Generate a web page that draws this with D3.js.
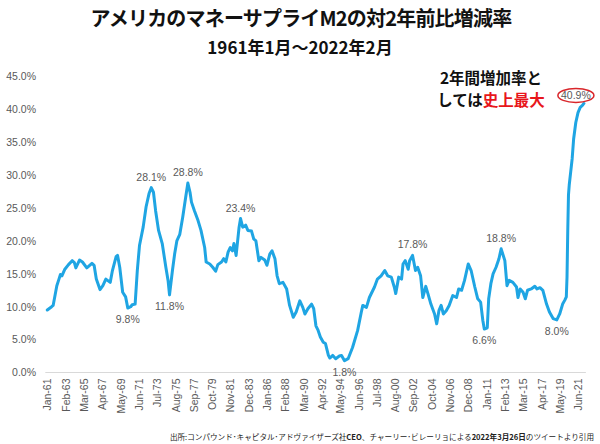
<!DOCTYPE html>
<html>
<head>
<meta charset="utf-8">
<script src="https://cdn.jsdelivr.net/npm/d3@7/dist/d3.min.js"></script>
<style>
  html, body { margin: 0; padding: 0; background: #fff; }
  svg { display: block; }
</style>
</head>
<body>
<svg id="chart" width="600" height="444"></svg>
<script>
// ---- data ----
const months = [
  "1961-01","1961-07","1961-09","1962-02","1962-05","1962-07","1962-09","1963-01","1963-06","1963-11",
  "1964-02","1964-04","1964-09","1965-01","1965-07","1966-02","1966-05","1966-08","1967-01","1967-05",
  "1967-09","1968-03","1968-06","1968-11","1969-01","1969-04","1969-08","1969-12","1970-03","1970-07",
  "1970-09","1971-01","1971-04","1971-07","1971-12","1972-04","1972-08","1972-11","1973-02","1973-05",
  "1973-09","1974-02","1974-07","1974-10","1974-12","1975-04","1975-07","1975-10","1976-02","1976-06",
  "1976-10","1977-01","1977-04","1977-06","1977-10","1978-03","1978-07","1978-12","1979-02","1979-07",
  "1979-11","1980-03","1980-06","1980-11","1981-02","1981-05","1981-08","1981-11","1982-02","1982-04",
  "1982-07","1982-11","1983-01","1983-04","1983-08","1983-11","1984-04","1984-07","1984-10","1985-02",
  "1985-05","1985-10","1986-01","1986-05","1986-08","1986-12","1987-03","1987-06","1987-11","1988-04",
  "1988-08","1989-01","1989-05","1989-10","1990-02","1990-05","1990-09","1991-02","1991-05","1991-08",
  "1991-11","1992-02","1992-06","1992-09","1993-01","1993-03","1993-07","1993-11","1994-04","1994-07",
  "1994-11","1995-04","1995-10","1996-05","1996-10","1996-12","1997-05","1997-09","1998-04","1998-08",
  "1999-01","1999-06","1999-10","2000-03","2000-07","2000-09","2001-01","2001-05","2001-07","2001-10",
  "2002-02","2002-04","2002-08","2002-12","2003-03","2003-07","2003-10","2004-02","2004-05","2004-09",
  "2005-02","2005-05","2005-08","2005-11","2006-02","2006-06","2006-10","2007-03","2007-08","2007-11",
  "2008-03","2008-07","2008-12","2009-04","2009-09","2010-01","2010-05","2010-08","2010-10","2011-02",
  "2011-04","2011-07","2011-10","2012-02","2012-06","2012-09","2013-02","2013-05","2013-08","2014-01",
  "2014-06","2014-08","2014-11","2015-03","2015-06","2015-09","2016-02","2016-07","2016-10","2017-02",
  "2017-06","2017-11","2018-03","2018-08","2019-01","2019-05","2019-09","2019-12","2020-02","2020-03",
  "2020-04","2020-05","2020-06","2020-08","2020-10","2020-12","2021-03","2021-06","2021-09","2021-12",
  "2022-02"
];
const growthPct = [
  9.5,10.0,10.2,13.2,14.2,14.9,14.7,15.7,16.4,17.0,
  16.7,15.9,17.1,16.8,15.9,16.6,16.3,14.2,12.6,13.2,
  14.2,13.7,15.5,17.6,17.8,16.0,12.2,11.5,9.8,10.0,
  10.3,10.4,15.5,19.3,22.1,25.2,27.2,28.1,27.4,24.6,
  21.6,19.6,16.0,14.0,11.8,15.5,18.0,20.0,21.0,23.6,
  26.6,28.8,27.4,25.9,24.6,23.1,21.6,19.0,16.8,16.5,
  16.0,15.4,16.4,16.8,17.3,16.8,18.3,19.0,18.5,19.6,
  17.8,22.1,23.4,22.1,22.4,21.6,21.5,20.3,20.0,17.0,
  17.5,17.1,16.3,18.0,18.5,17.3,14.7,13.5,13.7,12.7,
  10.2,8.4,9.2,10.9,9.9,8.9,9.7,10.4,9.7,7.1,
  6.4,5.4,4.6,4.4,2.6,2.2,2.6,2.1,2.5,2.6,
  1.8,2.1,3.8,6.4,9.2,10.2,9.9,11.4,13.0,14.2,
  14.7,15.5,14.7,14.5,13.0,12.0,14.5,14.2,16.5,17.0,
  15.7,17.0,17.8,15.5,16.0,14.7,11.4,13.1,12.0,10.4,
  8.9,7.4,9.4,10.2,8.9,9.4,10.2,11.7,11.4,12.7,
  12.5,14.0,16.5,15.5,13.0,11.2,10.7,7.9,6.6,6.8,
  11.2,13.5,15.0,16.0,17.3,18.8,17.0,13.2,14.0,13.7,
  13.0,11.4,12.7,12.2,11.2,12.5,12.7,13.1,12.7,12.9,
  12.5,10.4,9.2,8.2,8.0,8.9,10.4,11.0,11.5,14.5,
  21.6,27.0,28.5,30.5,32.5,35.5,38.0,39.5,40.3,40.6,
  40.9
];
// annotated points
const labelMonths = ["1972-11","1977-01","1983-01","1970-03","1974-12","1994-11","2002-08","2012-09","2010-10","2019-01","2022-02"];
const labelValues = [28.1, 28.8, 23.4, 9.8, 11.8, 1.8, 17.8, 18.8, 6.6, 8.0, 40.9];
const labelSide   = ["above","above","above","below","below","below","above","above","below","below","circle"];

const yTicks = [0,5,10,15,20,25,30,35,40,45];
const xTickMonths = ["1961-01","1963-02","1965-03","1967-04","1969-05","1971-06","1973-07","1975-08","1977-09","1979-10",
  "1981-11","1983-12","1986-01","1988-02","1990-03","1992-04","1994-05","1996-06","1998-07","2000-08",
  "2002-09","2004-10","2006-11","2008-12","2011-01","2013-02","2015-03","2017-04","2019-05","2021-06"];

const titleText = "アメリカのマネーサプライM2の対2年前比増減率";
const subtitleText = "1961年1月～2022年2月";
const noteLine1 = "2年間増加率と";
const noteLine2a = "しては";
const noteLine2b = "史上最大";
// source line pieces: [text, bold?]
const sourceParts = [
  ["出所:コンパウンド･キャピタル･アドヴァイザーズ社", false],
  ["CEO", true],
  ["、チャーリー･ビレーリョによる", false],
  ["2022年3月26日", true],
  ["のツイートより引用", false]
];

// ---- drawing ----
const parseM = d3.timeParse("%Y-%m");
const fmtM = d3.timeFormat("%b-%y");
const svg = d3.select("#chart");
const latin = "'Liberation Sans', Arial, sans-serif";
const cjk = "'Noto Sans CJK JP', 'Noto Sans', sans-serif";
const gray = "#595959";

const x = d3.scaleTime()
  .domain([parseM("1961-01"), parseM("2022-02")])
  .range([47.3, 583.9]);
const y = d3.scaleLinear().domain([0, 45]).range([372.5, 76.5]);

const data = months.map((m, i) => ({ date: parseM(m), value: growthPct[i] }));

// titles
svg.append("text").attr("x", 301).attr("y", 26).attr("text-anchor", "middle")
  .style("font-family", cjk).style("font-weight", "bold").style("font-size", "20px")
  .style("letter-spacing", "-0.8px").style("fill", "#111")
  .text(titleText);
svg.append("text").attr("x", 300).attr("y", 54).attr("text-anchor", "middle")
  .style("font-family", cjk).style("font-weight", "bold").style("font-size", "17px").style("fill", "#111")
  .text(subtitleText);

// y axis
const yAxis = svg.append("g").attr("transform", "translate(47,0)")
  .call(d3.axisLeft(y).tickValues(yTicks).tickSize(0).tickPadding(11).tickFormat(d => d.toFixed(1) + "%"));
yAxis.select(".domain").remove();
yAxis.selectAll("text").style("font-family", latin).style("font-size", "10.5px").style("fill", gray);

// x axis baseline
svg.append("line")
  .attr("x1", x.range()[0] - 2).attr("x2", x.range()[1] + 2)
  .attr("y1", y(0)).attr("y2", y(0))
  .attr("stroke", "#d9d9d9").attr("stroke-width", 1);

const xAxis = svg.append("g").attr("transform", `translate(0,${y(0)})`)
  .call(d3.axisBottom(x).tickValues(xTickMonths.map(parseM)).tickSize(0).tickFormat(fmtM));
xAxis.select(".domain").remove();
xAxis.selectAll("text")
  .attr("transform", "rotate(-90)")
  .attr("text-anchor", "end")
  .attr("x", -6).attr("y", 0).attr("dy", "0.35em")
  .style("font-family", latin).style("font-size", "10.5px").style("fill", gray);

// line
svg.append("path").datum(data)
  .attr("fill", "none")
  .attr("stroke", "#1fa5e3")
  .attr("stroke-width", 3)
  .attr("stroke-linejoin", "round")
  .attr("stroke-linecap", "round")
  .attr("d", d3.line().x(d => x(d.date)).y(d => y(d.value)));

// data labels
labelMonths.forEach((m, i) => {
  const px = x(parseM(m)), py = y(labelValues[i]);
  const txt = labelValues[i].toFixed(1) + "%";
  if (labelSide[i] === "circle") {
    const cx = px - 8, cy = py - 8;
    svg.append("ellipse").attr("cx", cx).attr("cy", cy).attr("rx", 18).attr("ry", 7)
      .attr("fill", "none").attr("stroke", "#d9262b").attr("stroke-width", 1.5);
    svg.append("text").attr("x", cx).attr("y", cy + 4).attr("text-anchor", "middle")
      .style("font-family", latin).style("font-size", "10.5px").style("fill", gray).text(txt);
  } else {
    const ty = labelSide[i] === "above" ? py - 7 : py + 15;
    svg.append("text").attr("x", px).attr("y", ty).attr("text-anchor", "middle")
      .style("font-family", latin).style("font-size", "10.5px").style("fill", gray).text(txt);
  }
});

// annotation
svg.append("text").attr("x", 491).attr("y", 84).attr("text-anchor", "middle")
  .style("font-family", cjk).style("font-weight", "bold").style("font-size", "15.5px").style("fill", "#111")
  .text(noteLine1);
const n2 = svg.append("text").attr("x", 491).attr("y", 106).attr("text-anchor", "middle")
  .style("font-family", cjk).style("font-weight", "bold").style("font-size", "15.5px").style("fill", "#111");
n2.append("tspan").text(noteLine2a);
n2.append("tspan").style("fill", "#e8161b").text(noteLine2b);

// source
const src = svg.append("text").attr("x", 594).attr("y", 440).attr("text-anchor", "end")
  .style("font-family", cjk).style("font-size", "7.6px").style("fill", "#222");
sourceParts.forEach(p => {
  src.append("tspan").style("font-weight", p[1] ? "bold" : "normal").text(p[0]);
});
</script>
</body>
</html>
